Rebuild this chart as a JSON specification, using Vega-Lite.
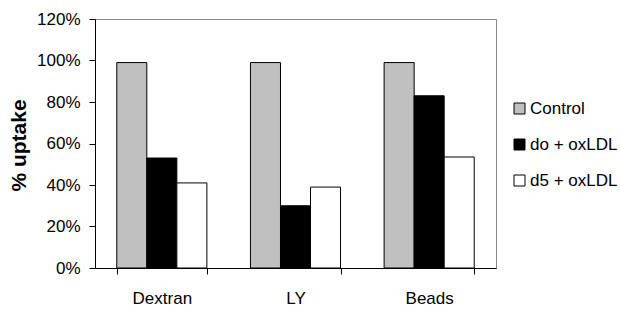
{
  "$schema": "https://vega.github.io/schema/vega-lite/v6.json",
  "width": 401,
  "height": 249,
  "autosize": {"type": "none"},
  "padding": {"left": 95, "top": 19, "right": 124, "bottom": 50},
  "background": "white",
  "config": {
    "font": "Liberation Sans",
    "view": {"stroke": "#888888", "strokeWidth": 1}
  },
  "data": {
    "values": [
      {"Material": "Dextran", "Group": "Control", "Uptake": 0.99},
      {"Material": "Dextran", "Group": "do + oxLDL", "Uptake": 0.53},
      {"Material": "Dextran", "Group": "d5 + oxLDL", "Uptake": 0.41},
      {"Material": "LY", "Group": "Control", "Uptake": 0.99},
      {"Material": "LY", "Group": "do + oxLDL", "Uptake": 0.30},
      {"Material": "LY", "Group": "d5 + oxLDL", "Uptake": 0.39},
      {"Material": "Beads", "Group": "Control", "Uptake": 0.99},
      {"Material": "Beads", "Group": "do + oxLDL", "Uptake": 0.83},
      {"Material": "Beads", "Group": "d5 + oxLDL", "Uptake": 0.535}
    ]
  },
  "mark": {"type": "bar", "stroke": "black", "strokeWidth": 1},
  "encoding": {
    "x": {
      "field": "Material",
      "type": "nominal",
      "sort": ["Dextran", "LY", "Beads"],
      "scale": {"paddingInner": 0.326, "paddingOuter": 0.163},
      "axis": {
        "title": null,
        "labelAngle": 0,
        "labelFontSize": 17,
        "labelColor": "black",
        "tickBand": "extent",
        "tickColor": "black",
        "tickSize": 6,
        "domainColor": "black",
        "labelPadding": 16,
        "grid": false
      }
    },
    "xOffset": {
      "field": "Group",
      "type": "nominal",
      "sort": ["Control", "do + oxLDL", "d5 + oxLDL"]
    },
    "y": {
      "field": "Uptake",
      "type": "quantitative",
      "scale": {"domain": [0, 1.2], "nice": false},
      "axis": {
        "values": [0, 0.2, 0.4, 0.6, 0.8, 1.0, 1.2],
        "format": ".0%",
        "grid": false,
        "title": "% uptake",
        "titleFontSize": 21,
        "titleFontWeight": "bold",
        "titleColor": "black",
        "titleX": -76,
        "titleY": 126,
        "titleAlign": "center",
        "titleBaseline": "middle",
        "titleAngle": -90,
        "labelFontSize": 17,
        "labelColor": "black",
        "labelPadding": 9,
        "tickSize": 6,
        "tickColor": "black",
        "domainColor": "black"
      }
    },
    "fill": {
      "field": "Group",
      "type": "nominal",
      "sort": ["Control", "do + oxLDL", "d5 + oxLDL"],
      "scale": {
        "domain": ["Control", "do + oxLDL", "d5 + oxLDL"],
        "range": ["#C0C0C0", "#000000", "#FFFFFF"]
      },
      "legend": {
        "title": null,
        "orient": "none",
        "legendX": 416,
        "legendY": 81,
        "symbolType": "square",
        "symbolSize": 121,
        "symbolStrokeColor": "black",
        "symbolStrokeWidth": 1,
        "labelFontSize": 17,
        "labelColor": "black",
        "labelOffset": 2,
        "rowPadding": 18
      }
    }
  }
}
